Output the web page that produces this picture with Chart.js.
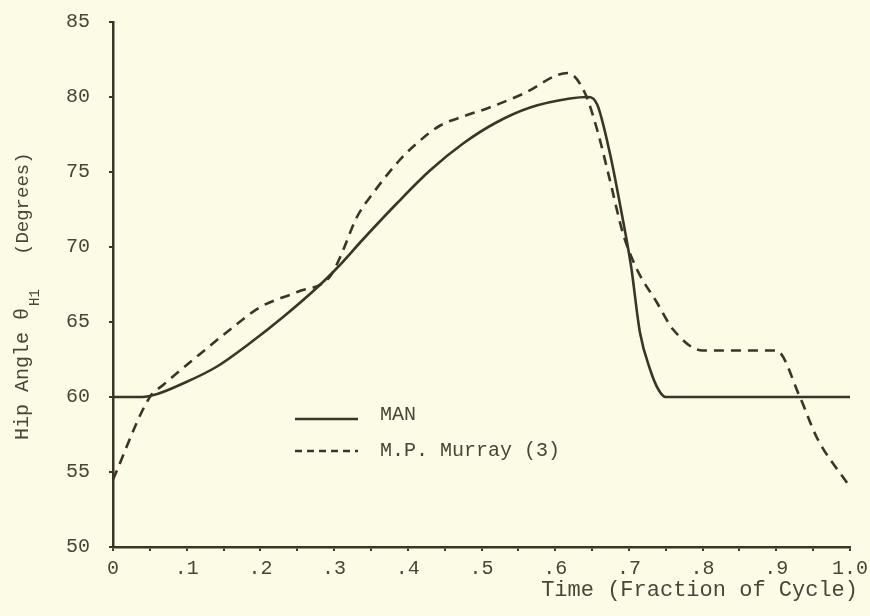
<!DOCTYPE html>
<html>
<head>
<meta charset="utf-8">
<script src="https://cdn.jsdelivr.net/npm/chart.js@4"></script>
<style>
html, body { margin: 0; padding: 0; background: #fcfbe6; }
#wrap { width: 870px; height: 616px; }
</style>
</head>
<body>
<div id="wrap"><canvas id="hipChart" width="870" height="616"></canvas></div>
<script>
// data
const manX = [0, 0.04, 0.06, 0.095, 0.14, 0.186, 0.23, 0.277, 0.304, 0.339, 0.385, 0.43, 0.475, 0.52, 0.566, 0.62, 0.645, 0.657, 0.674, 0.69, 0.703, 0.715, 0.729, 0.74, 0.75, 1.0];
const manY = [60, 60, 60.2, 60.9, 62.0, 63.6, 65.3, 67.3, 68.6, 70.5, 72.9, 75.1, 76.9, 78.3, 79.3, 79.9, 80.0, 79.5, 76.3, 72.3, 68.7, 64.3, 61.8, 60.5, 60, 60];

const murrayX = [0, 0.05, 0.068, 0.114, 0.159, 0.2, 0.25, 0.294, 0.308, 0.331, 0.353, 0.389, 0.412, 0.444, 0.475, 0.511, 0.556, 0.617, 0.64, 0.657, 0.674, 0.692, 0.711, 0.738, 0.76, 0.8, 0.9, 0.932, 0.955, 1.0];
const murrayY = [54.5, 60, 60.8, 62.7, 64.5, 66.0, 67.0, 68.0, 69.3, 72.0, 73.6, 75.8, 76.9, 78.1, 78.7, 79.3, 80.2, 81.6, 80.3, 77.8, 74.5, 70.9, 68.5, 66.3, 64.5, 63.1, 63.1, 60, 57.3, 54];

const seriesNames = ['MAN', 'M.P. Murray (3)'];
const xTitle = 'Time (Fraction of Cycle)';
const yTitleMain = 'Hip Angle \u03b8';
const yTitleSub = 'H1';
const yTitleUnit = '(Degrees)';

const ink = '#3b3528';
const textInk = '#4b4536';
const bg = '#fcfbe6';

function toPoints(xs, ys) {
    return xs.map((x, i) => ({ x: x, y: ys[i] }));
}

function xLabel(value) {
    const r = Math.round(value * 100);
    if (r % 10 !== 0) return '';
    if (r === 0) return '0';
    if (r === 100) return '1.0';
    return '.' + (r / 10);
}

// background, titles and the hand-placed legend
const paperPlugin = {
    id: 'paper',
    beforeDraw(chart) {
        const ctx = chart.ctx;
        ctx.save();
        ctx.fillStyle = bg;
        ctx.fillRect(0, 0, chart.width, chart.height);
        ctx.restore();
    },
    afterDraw(chart) {
        const ctx = chart.ctx;
        ctx.save();
        ctx.fillStyle = textInk;
        ctx.textBaseline = 'middle';

        // x title
        ctx.font = '22px "Liberation Mono", monospace';
        ctx.textAlign = 'right';
        ctx.fillText(xTitle, 858, 590);

        // y title, rotated
        ctx.save();
        ctx.translate(23, 440);
        ctx.rotate(-Math.PI / 2);
        ctx.textAlign = 'left';
        ctx.font = '20px "Liberation Mono", monospace';
        ctx.fillText(yTitleMain, 0, 0);
        const w = ctx.measureText(yTitleMain).width;
        ctx.font = '14px "Liberation Mono", monospace';
        ctx.fillText(yTitleSub, w + 2, 12);
        ctx.font = '19px "Liberation Mono", monospace';
        ctx.fillText(yTitleUnit, 185, 0);
        ctx.restore();

        // legend
        const rows = [419, 451];
        chart.data.datasets.forEach((ds, i) => {
            ctx.beginPath();
            ctx.strokeStyle = ds.borderColor;
            ctx.lineWidth = 2.5;
            ctx.setLineDash(i === 0 ? [] : [7, 5]);
            ctx.moveTo(295, rows[i]);
            ctx.lineTo(358, rows[i]);
            ctx.stroke();
            ctx.setLineDash([]);
            ctx.font = '20px "Liberation Mono", monospace';
            ctx.textAlign = 'left';
            ctx.fillText(ds.label, 380, rows[i] - (i === 0 ? 4 : 0));
        });
        ctx.restore();
    }
};

const can = document.getElementById('hipChart').getContext('2d');
const hipChart = new Chart(can, {
    type: 'line',
    data: {
        datasets: [{
            label: seriesNames[0],
            data: toPoints(manX, manY),
            borderColor: ink,
            borderWidth: 2.6,
            pointRadius: 0,
            cubicInterpolationMode: 'monotone',
            fill: false
        }, {
            label: seriesNames[1],
            data: toPoints(murrayX, murrayY),
            borderColor: ink,
            borderWidth: 2.6,
            borderDash: [10, 7],
            pointRadius: 0,
            cubicInterpolationMode: 'monotone',
            fill: false
        }]
    },
    options: {
        responsive: false,
        animation: false,
        layout: {
            padding: { top: 22, right: 20, left: 0, bottom: 0 }
        },
        scales: {
            x: {
                type: 'linear',
                min: 0,
                max: 1,
                afterFit(scale) {
                    scale.height = 69;
                    scale.paddingLeft = 0;
                    scale.paddingRight = 0;
                },
                border: { color: ink, width: 2.5 },
                grid: {
                    drawOnChartArea: false,
                    tickLength: 4,
                    color: ink,
                    lineWidth: 2
                },
                ticks: {
                    stepSize: 0.05,
                    autoSkip: false,
                    maxRotation: 0,
                    padding: 6,
                    color: textInk,
                    font: { family: '"Liberation Mono", monospace', size: 20 },
                    callback: (v) => xLabel(v)
                }
            },
            y: {
                min: 50,
                max: 85,
                afterFit(scale) {
                    scale.width = 113;
                    scale.paddingTop = 0;
                    scale.paddingBottom = 0;
                },
                border: { color: ink, width: 2.5 },
                grid: {
                    drawOnChartArea: false,
                    tickLength: 4,
                    color: ink,
                    lineWidth: 2
                },
                ticks: {
                    stepSize: 5,
                    padding: 19,
                    color: textInk,
                    font: { family: '"Liberation Mono", monospace', size: 20 }
                }
            }
        },
        plugins: {
            legend: { display: false },
            tooltip: { enabled: false }
        }
    },
    plugins: [paperPlugin]
});
</script>
</body>
</html>
